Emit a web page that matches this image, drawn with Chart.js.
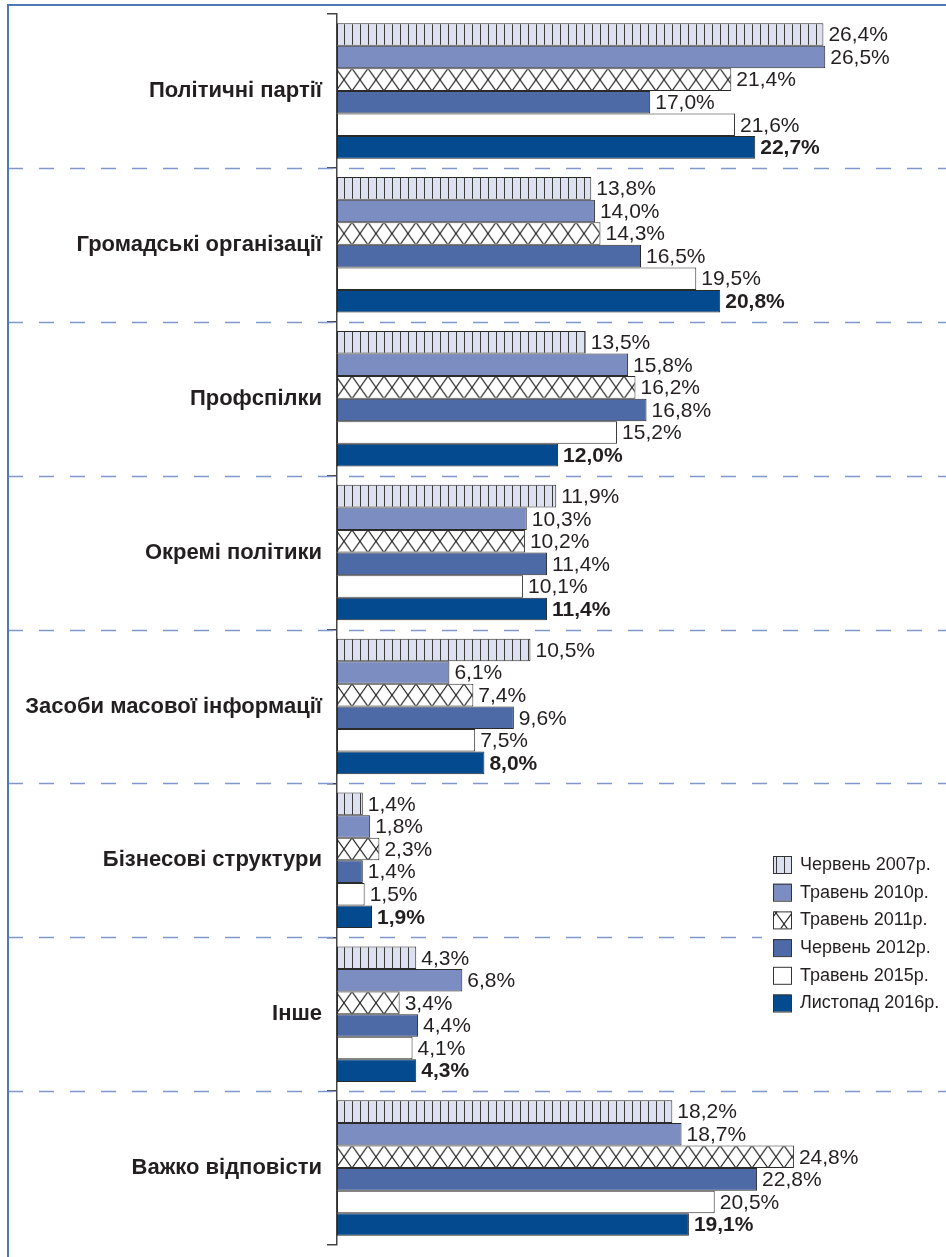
<!DOCTYPE html>
<html lang="uk">
<head>
    <meta charset="UTF-8">
    <title>Довіра до суб'єктів</title>
    <script src="https://cdn.jsdelivr.net/npm/chart.js"></script>
    <style>
        body { margin: 0; background: #fff; }
        #frame {
            position: absolute; left: 7px; top: 4px; width: 939px; height: 1253px;
            border-top: 2px solid #4d7ab3; border-left: 2px solid #4d7ab3;
            box-sizing: border-box;
        }
        #chartBox { position: absolute; left: 0; top: 0; width: 946px; height: 1257px; }
    </style>
</head>
<body>
    <div id="frame"></div>
    <div id="chartBox">
        <canvas id="myChart" width="946" height="1257"></canvas>
    </div>
    <script>
        const categories = [
            'Політичні партії',
            'Громадські організації',
            'Профспілки',
            'Окремі політики',
            'Засоби масової інформації',
            'Бізнесові структури',
            'Інше',
            'Важко відповісти'
        ];
        const seriesLabels = ['Червень 2007р.', 'Травень 2010р.', 'Травень 2011р.', 'Червень 2012р.', 'Травень 2015р.', 'Листопад 2016р.'];

        const jun2007 = [26.4, 13.8, 13.5, 11.9, 10.5, 1.4, 4.3, 18.2];
        const may2010 = [26.5, 14.0, 15.8, 10.3, 6.1, 1.8, 6.8, 18.7];
        const may2011 = [21.4, 14.3, 16.2, 10.2, 7.4, 2.3, 3.4, 24.8];
        const jun2012 = [17.0, 16.5, 16.8, 11.4, 9.6, 1.4, 4.4, 22.8];
        const may2015 = [21.6, 19.5, 15.2, 10.1, 7.5, 1.5, 4.1, 20.5];
        const nov2016 = [22.7, 20.8, 12.0, 11.4, 8.0, 1.9, 4.3, 19.1];

        const ctx = document.getElementById('myChart').getContext('2d');
        const catPct = 0.88;

        function verticalLines() {
            const c = document.createElement('canvas');
            c.width = 8; c.height = 8;
            const g = c.getContext('2d');
            g.fillStyle = '#dde1ef';
            g.fillRect(0, 0, 8, 8);
            g.fillStyle = '#3a3a3a';
            g.fillRect(0, 0, 1, 8);
            return ctx.createPattern(c, 'repeat');
        }

        const hatchTile = document.createElement('canvas');
        (function () {
            hatchTile.width = 16; hatchTile.height = 22;
            const g = hatchTile.getContext('2d');
            g.fillStyle = '#ffffff';
            g.fillRect(0, 0, 16, 22);
            g.strokeStyle = '#222';
            g.lineWidth = 1.1;
            g.beginPath();
            g.moveTo(0, 0); g.lineTo(16, 22);
            g.moveTo(0, 22); g.lineTo(16, 0);
            g.stroke();
        })();
        const hatchPattern = ctx.createPattern(hatchTile, 'repeat');

        // cross hatch lined up with the top of each bar
        function crossHatch(c) {
            const ys = c.chart.scales && c.chart.scales.y;
            if (c.type !== 'data' || !ys || !ys.height) return hatchPattern;
            const t = ys.height / categories.length * catPct / 6;
            const top = ys.getPixelForValue(c.dataIndex) - t;
            const p = ctx.createPattern(hatchTile, 'repeat');
            p.setTransform(new DOMMatrix().translate(0, top).scale(1, t / 22));
            return p;
        }

        const fills = [verticalLines(), '#7b8dc1', hatchPattern, '#4e6aa6', '#ffffff', '#044a8e'];
        const values = [jun2007, may2010, may2011, jun2012, may2015, nov2016];

        const fmt = v => v.toFixed(1).replace('.', ',') + '%';

        // dashed separators between the groups
        const separators = {
            id: 'separators',
            beforeDatasetsDraw(chart) {
                const y = chart.scales.y;
                const c = chart.ctx;
                c.save();
                c.strokeStyle = '#7f98c9';
                c.lineWidth = 1.5;
                c.setLineDash([15, 16]);
                c.lineDashOffset = 1;
                for (let i = 1; i < categories.length; i++) {
                    const py = Math.round((y.getPixelForValue(i - 1) + y.getPixelForValue(i)) / 2) + 0.5;
                    c.beginPath();
                    c.moveTo(9, py);
                    c.lineTo(chart.width, py);
                    c.stroke();
                }
                c.restore();
            }
        };

        // value labels at the end of each bar
        const valueLabels = {
            id: 'valueLabels',
            afterDatasetsDraw(chart) {
                const c = chart.ctx;
                c.save();
                c.fillStyle = '#231f20';
                c.textBaseline = 'middle';
                c.textAlign = 'left';
                chart.data.datasets.forEach((ds, i) => {
                    c.font = (i === 5 ? 'bold ' : '') + '21px "Liberation Sans", Arial, sans-serif';
                    chart.getDatasetMeta(i).data.forEach((bar, j) => {
                        c.fillText(fmt(ds.data[j]), bar.x + 5, bar.y + 1);
                    });
                });
                c.restore();
            }
        };

        // legend box inside the plot
        const boxLegend = {
            id: 'boxLegend',
            afterDraw(chart) {
                const c = chart.ctx;
                c.save();
                c.fillStyle = '#fff';
                c.fillRect(762, 845, 184, 172);
                c.font = '18px "Liberation Sans", Arial, sans-serif';
                c.textBaseline = 'middle';
                seriesLabels.forEach((label, i) => {
                    const top = 856 + i * 27.7;
                    c.fillStyle = fills[i];
                    c.fillRect(773, top, 18, 17);
                    c.strokeStyle = '#333';
                    c.lineWidth = 1;
                    c.strokeRect(773.5, top + 0.5, 18, 17);
                    c.fillStyle = '#231f20';
                    c.fillText(label, 800, top + 9);
                });
                c.restore();
            }
        };

        const config = {
            type: 'bar',
            data: {
                labels: categories,
                datasets: values.map((data, i) => ({
                    label: seriesLabels[i],
                    data: data,
                    backgroundColor: i === 2 ? crossHatch : fills[i],
                    borderColor: '#2a2a2a',
                    borderWidth: 1,
                    borderSkipped: false,
                    categoryPercentage: catPct,
                    barPercentage: 1
                }))
            },
            options: {
                indexAxis: 'y',
                responsive: false,
                animation: false,
                devicePixelRatio: 1,
                layout: { padding: { top: 14, bottom: 12, left: 0, right: 1 } },
                plugins: {
                    legend: { display: false },
                    tooltip: { enabled: false }
                },
                scales: {
                    x: {
                        display: false,
                        min: 0,
                        max: 33
                    },
                    y: {
                        afterFit(scale) {
                            scale.width = 337;
                            scale.paddingTop = 0;
                            scale.paddingBottom = 0;
                        },
                        grid: {
                            offset: true,
                            drawOnChartArea: false,
                            tickLength: 10,
                            color: '#444',
                            lineWidth: 1.5
                        },
                        border: { color: '#444', width: 1.5 },
                        ticks: {
                            padding: 5,
                            color: '#231f20',
                            font: { family: '"Liberation Sans", Arial, sans-serif', size: 22, weight: 'bold' }
                        }
                    }
                }
            },
            plugins: [separators, valueLabels, boxLegend]
        };

        const myChart = new Chart(ctx, config);
    </script>
</body>
</html>
